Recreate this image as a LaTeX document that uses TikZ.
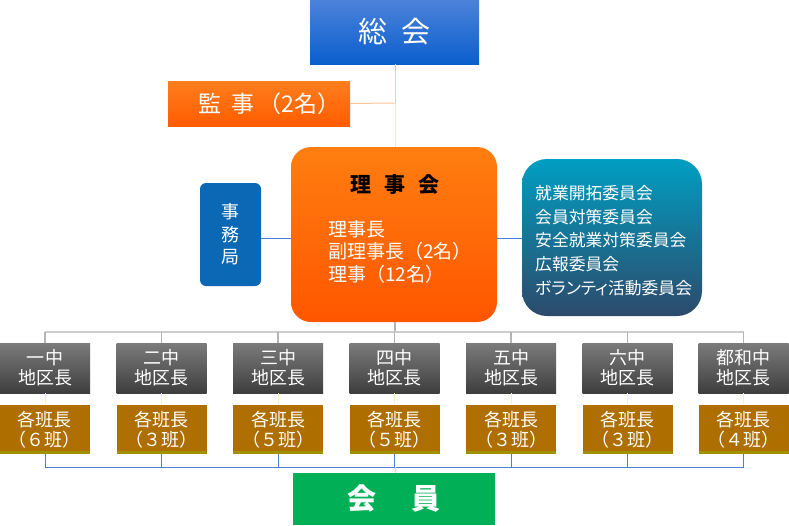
\documentclass[tikz,border=0pt]{standalone}
\usepackage{fontspec}
\setmainfont{Noto Sans CJK JP}
\newfontfamily\jpprop[RawFeature=+palt]{Noto Sans CJK JP}
\definecolor{soukaiTop}{HTML}{4C82DA}
\definecolor{soukaiBot}{HTML}{0A5FCE}
\definecolor{kanjiTop}{HTML}{FF7E1E}
\definecolor{kanjiBot}{HTML}{FF5C00}
\definecolor{rijiTop}{HTML}{FF7E10}
\definecolor{rijiBot}{HTML}{FF5600}
\definecolor{jimuC}{HTML}{0B68B5}
\definecolor{iinTop}{HTML}{009EC2}
\definecolor{iinMid}{HTML}{006A8C}
\definecolor{iinBot}{HTML}{2D4A6B}
\definecolor{dTop}{HTML}{7B7B7B}
\definecolor{dBot}{HTML}{3E3E3E}
\definecolor{goldC}{HTML}{AF6F00}
\definecolor{goldEdge}{HTML}{A09200}
\definecolor{kaiinC}{HTML}{00AF56}
\definecolor{blueLine}{HTML}{4A7FD8}
\definecolor{peachLine}{HTML}{FFC49A}
\definecolor{peachLight}{HTML}{FFE6D4}
\definecolor{grayLine}{HTML}{B4B4B4}
\definecolor{grayBar}{HTML}{CCCCCC}
\definecolor{yellowLine}{HTML}{FFF0C4}
\begin{document}
\begin{tikzpicture}[x=1pt,y=-1pt,
  box/.style={draw=none, inner sep=0pt, text=white, align=center},
  dist/.style={box, minimum width=90pt, minimum height=50pt, top color=dTop, bottom color=dBot,
    font=\fontsize{18}{20}\selectfont},
  goldbox/.style={box, minimum width=90pt, minimum height=49pt, fill=goldC,
    font=\fontsize{18}{20}\selectfont,
    path picture={\fill[goldEdge] (path picture bounding box.south west) rectangle ([yshift=3pt]path picture bounding box.south east);}},
  peach/.style={draw=peachLine, line width=1pt},
  blueln/.style={draw=blueLine, line width=1pt},
  grayln/.style={draw=grayLine, line width=1.2pt},
  graybar/.style={draw=grayBar, line width=1.2pt},
  yellowln/.style={draw=yellowLine, line width=1pt}
]
\useasboundingbox (0,0) rectangle (789,525);

% top
\node[box, minimum width=169pt, minimum height=64pt, top color=soukaiTop, bottom color=soukaiBot,
  font=\fontsize{29}{30}\selectfont] (soukai) at (394.5,32) {総\hspace{0.45em}会};
\node[box, minimum width=182pt, minimum height=45pt, top color=kanjiTop, bottom color=kanjiBot,
  font=\fontsize{23}{26}\selectfont] (kanji) at (259,103.5) {\hspace{0.9em}監\hspace{0.45em}事\hspace{0.15em}（2名）};

\node[box, minimum width=206pt, minimum height=175pt, rounded corners=20pt, top color=rijiTop, bottom color=rijiBot] (riji) at (394,234.5) {};
\node[inner sep=0pt, font=\fontsize{21}{22}\selectfont\bfseries, text=black] (rijiT) at (395,185) {理\hspace{0.6em}事\hspace{0.6em}会};
\node[inner sep=0pt, anchor=north west, align=left, text=white, font=\fontsize{19}{22.5}\selectfont] (rijiB) at (328,220) {理事長\\副理事長（2名）\\理事（12名）};

\node[box, minimum width=61pt, minimum height=103pt, rounded corners=6pt, fill=jimuC,
  font=\fontsize{18}{22.5}\selectfont] (jimu) at (230.5,234.5) {事\\務\\局};

\node[box, minimum width=180pt, minimum height=157pt, rounded corners=25pt, top color=iinTop, middle color=iinMid, bottom color=iinBot] (iin) at (612,237.5) {};
\node[inner sep=0pt, anchor=north west, align=left, text=white, font=\jpprop\fontsize{16.8}{23.8}\selectfont] (iinT) at (535,185) {就業開拓委員会\\会員対策委員会\\安全就業対策委員会\\広報委員会\\ボランティ活動委員会};

% districts
\foreach \i/\x/\a/\b in {1/45/一中/６, 2/161.5/二中/３, 3/278/三中/５, 4/394.5/四中/５, 5/511/五中/３, 6/627.5/六中/３, 7/743.5/都和中/４}{
  \node[dist] (d\i) at (\x,368) {\a\\地区長};
  \node[goldbox] (g\i) at (\x,429.5) {各班長\\（\b 班）};
}

\node[box, minimum width=202pt, minimum height=52pt, fill=kaiinC,
  font=\fontsize{29}{30}\selectfont\bfseries] (kaiin) at (394,499) {会\hspace{1.2em}員};

% connectors
\coordinate (kj) at (395,103);
\coordinate (topbar) at (0,332);
\coordinate (botbar) at (0,467);
\draw[peach] (soukai.south -| kj) -- (kj);
\draw[draw=peachLight, line width=1pt] (kj) -- (riji.north -| kj);
\draw[peach] (kanji.east) -- (kj);
\draw[blueln] (jimu.east |- 0,238) -- (riji.west |- 0,238);
\draw[blueln] (riji.east |- 0,238) -- (iin.west |- 0,238);
\draw[grayln] (riji.south -| kj) -- (topbar -| kj);
\draw[graybar] (topbar -| d1.north) -- (topbar -| d7.north);
\foreach \i in {1,...,7}{
  \draw[grayln] (topbar -| d\i.north) -- (d\i.north);
  \draw[yellowln] (d\i.south) -- (g\i.north);
  \draw[blueln] (g\i.south) -- (botbar -| g\i.south);
}
\draw[blueln] (botbar -| g1.south) -- (botbar -| g7.south);
\draw[draw=blueLine!25, line width=1pt] (botbar -| kj) -- (kaiin.north -| kj);
\end{tikzpicture}
\end{document}
